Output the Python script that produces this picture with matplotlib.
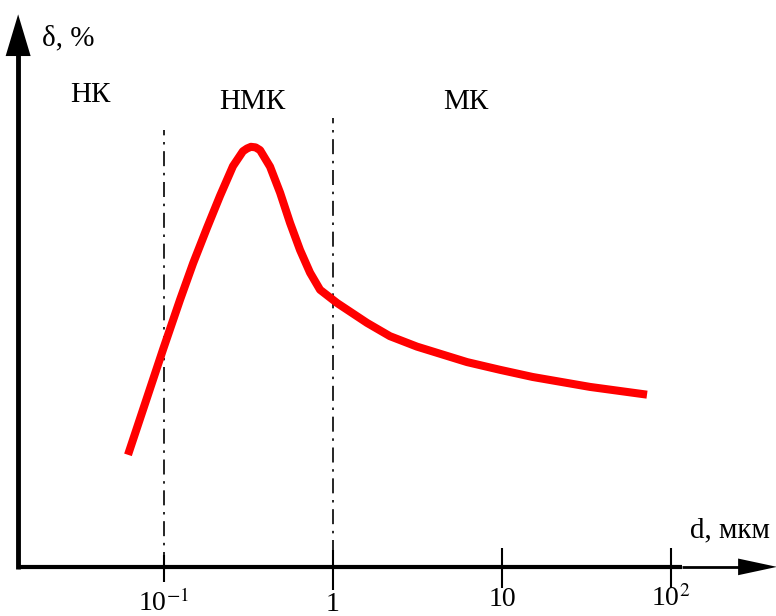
import numpy as np
import matplotlib
matplotlib.use("Agg")
import matplotlib.pyplot as plt

plt.rcParams['font.family'] = ['Liberation Serif', 'DejaVu Serif']
plt.rcParams['mathtext.fontset'] = 'stix'

# particle size, um
d = [0.0612, 0.0987, 0.1244, 0.1486, 0.1795, 0.2143, 0.2558, 0.2931,
     0.310, 0.327, 0.348, 0.370, 0.424, 0.486, 0.557, 0.638, 0.731, 0.838,
     1.057, 1.59, 2.17, 3.14, 6.21, 9.73, 15.2, 33.2, 72.1]
# delta, % (relative units)
delta = [20.3, 39.4, 48.4, 55.0, 61.4, 67.2, 72.6, 75.3,
         75.8, 76.1, 76.0, 75.5, 72.5, 67.8, 62.3, 57.4, 53.3, 50.2,
         47.8, 44.2, 41.8, 39.9, 37.1, 35.7, 34.4, 32.6, 31.2]

tick_vals = [0.1, 1, 10, 100]
tick_labels = ['10$^{-1}$', '1', '10', '10$^{2}$']
region_names = ['НК', 'НМК', 'МК']
borders = [0.1, 1]

fig = plt.figure(figsize=(7.76, 6.16), dpi=100)
ax = fig.add_axes([0, 0, 1, 1])
ax.set_xscale('log')
ax.set_xlim(0.0107, 418)
ax.set_ylim(-8.9, 102.7)
ax.axis('off')

x0 = 0.0137  # where the y axis stands

# y axis with arrow
ax.plot([x0, x0], [-0.4, 95], color='black', lw=3.5, solid_capstyle='butt')
ax.annotate('', xy=(x0, 100.6), xytext=(x0, 94), annotation_clip=False,
            arrowprops=dict(arrowstyle='-|>,head_length=1.5,head_width=0.45',
                            color='black', lw=0, mutation_scale=20))
# x axis: thick part, then thin part with arrow
ax.plot([x0, 116], [0, 0], color='black', lw=3.0, solid_capstyle='butt')
ax.plot([116, 330], [0, 0], color='black', lw=2.0, solid_capstyle='butt')
ax.annotate('', xy=(440, 0), xytext=(290, 0), annotation_clip=False,
            arrowprops=dict(arrowstyle='-|>,head_length=1.4,head_width=0.3',
                            color='black', lw=0, mutation_scale=20))

# ticks
ax.vlines(tick_vals, [-2.7, -4.2, -3.8, -3.8], [2.2, 3.1, 3.4, 3.4],
          color='black', lw=1.5)
label_y = [-6.5, -6.8, -6.0, -5.8]
for v, lab, yy in zip(tick_vals, tick_labels, label_y):
    ax.text(v, yy, lab, fontsize=20, ha='center', va='center')

# region borders
ax.plot([borders[0]] * 2, [0, 79.2], color='black', lw=1.2,
        linestyle=(0, (9, 4, 1.5, 4)))
ax.plot([borders[1]] * 2, [2.2, 81.3], color='black', lw=1.2,
        linestyle=(0, (9, 4, 1.5, 4)))

# curve
ax.plot(d, delta, color='red', lw=5.8, solid_capstyle='butt',
        solid_joinstyle='round')

# labels
ax.text(0.0365, 85.5, region_names[0], fontsize=21, ha='center', va='center')
ax.text(0.332, 84.2, region_names[1], fontsize=21, ha='center', va='center')
ax.text(6.12, 84.2, region_names[2], fontsize=21, ha='center', va='center')
ax.text(0.019, 95.8, 'δ, %', fontsize=21, ha='left', va='center')
ax.text(129, 6.7, 'd, мкм', fontsize=21, ha='left', va='center')

fig.savefig('out.png', dpi=100)
